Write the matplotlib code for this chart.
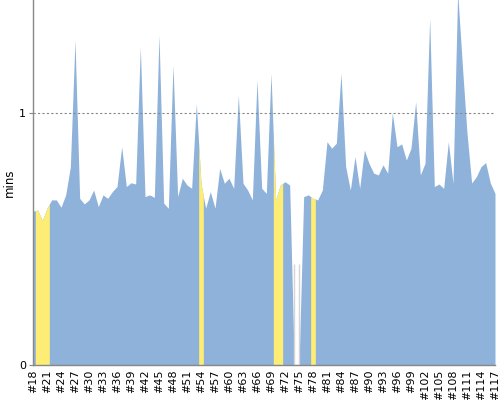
import numpy as np
import matplotlib
matplotlib.use('Agg')
import matplotlib.pyplot as plt

# build numbers and durations (minutes)
builds = list(range(18, 118))
durations = [
    0.61, 0.615, 0.573, 0.622, 0.655, 0.655, 0.626, 0.675, 0.785, 1.29,
    0.661, 0.639, 0.655, 0.694, 0.628, 0.675, 0.661, 0.688, 0.708, 0.866,
    0.708, 0.723, 0.718, 1.263, 0.668, 0.675, 0.665, 1.31, 0.642, 0.622,
    1.19, 0.668, 0.741, 0.714, 0.701, 1.038, 0.72, 0.622, 0.688, 0.622,
    0.78, 0.721, 0.741, 0.701, 1.071, 0.721, 0.694, 0.655, 1.131, 0.701,
    0.681, 1.157, 0.655, 0.714, 0.727, 0.714, 0.0, 0.0, 0.668, 0.675,
    0.661, 0.655, 0.694, 0.886, 0.86, 0.88, 1.157, 0.787, 0.694, 0.827,
    0.701, 0.853, 0.8, 0.761, 0.754, 0.794, 0.761, 1.0, 0.866, 0.877,
    0.813, 0.86, 1.045, 0.754, 0.8, 1.376, 0.708, 0.718, 0.701, 0.886,
    0.721, 1.48, 1.19, 0.92, 0.722, 0.747, 0.787, 0.803, 0.722, 0.681,
]
unstable = [19, 20, 21, 54, 70, 71, 78]
aborted = [74, 75]

blue = '#8fb2da'
yellow = '#fded75'
grey = '#888888'

fig = plt.figure(figsize=(5, 4), dpi=100)
ax = fig.add_axes([33 / 500, 35 / 400, 462 / 500, 365 / 400])

x = np.array(builds)
y = np.array(durations)
ax.fill_between(x, 0, y, color=blue, lw=0)

# unstable builds: group consecutive runs, span half a step either side
runs = []
for b in unstable:
    if runs and b == runs[-1][-1] + 1:
        runs[-1].append(b)
    else:
        runs.append([b])
for run in runs:
    i0 = builds.index(run[0])
    i1 = builds.index(run[-1])
    xs = [run[0] - 0.5] + run + [run[-1] + 0.5]
    ys = ([(y[i0 - 1] + y[i0]) / 2] + list(y[i0:i1 + 1])
          + [(y[i1] + y[i1 + 1]) / 2])
    ax.fill_between(xs, 0, ys, color=yellow, lw=0)

# aborted builds show as faint grey strips
ax.vlines(aborted, 0, 0.4, color='#d4d4d4', lw=1.0)

ax.set_xlim(builds[0], builds[-1])
ax.set_ylim(0, 1.448)

ax.set_yticks([0, 1])
ax.set_yticklabels(['0', '1'], fontsize=8)
ax.yaxis.grid(True, linestyle=(0, (2, 2)), color=grey, lw=0.8)
ax.set_axisbelow(False)

tick_builds = builds[::3]
ax.set_xticks(tick_builds)
ax.set_xticklabels(['#' + str(b) for b in tick_builds], rotation=90, fontsize=8)
ax.tick_params(axis='x', length=0, pad=3)
ax.tick_params(axis='y', length=3, color=grey, pad=2)

for s in ['top', 'right']:
    ax.spines[s].set_visible(False)
for s in ['left', 'bottom']:
    ax.spines[s].set_color(grey)
    ax.spines[s].set_linewidth(1.0)

ax.set_ylabel('mins', fontsize=8.5, labelpad=2)

fig.savefig('out.png', dpi=100)
